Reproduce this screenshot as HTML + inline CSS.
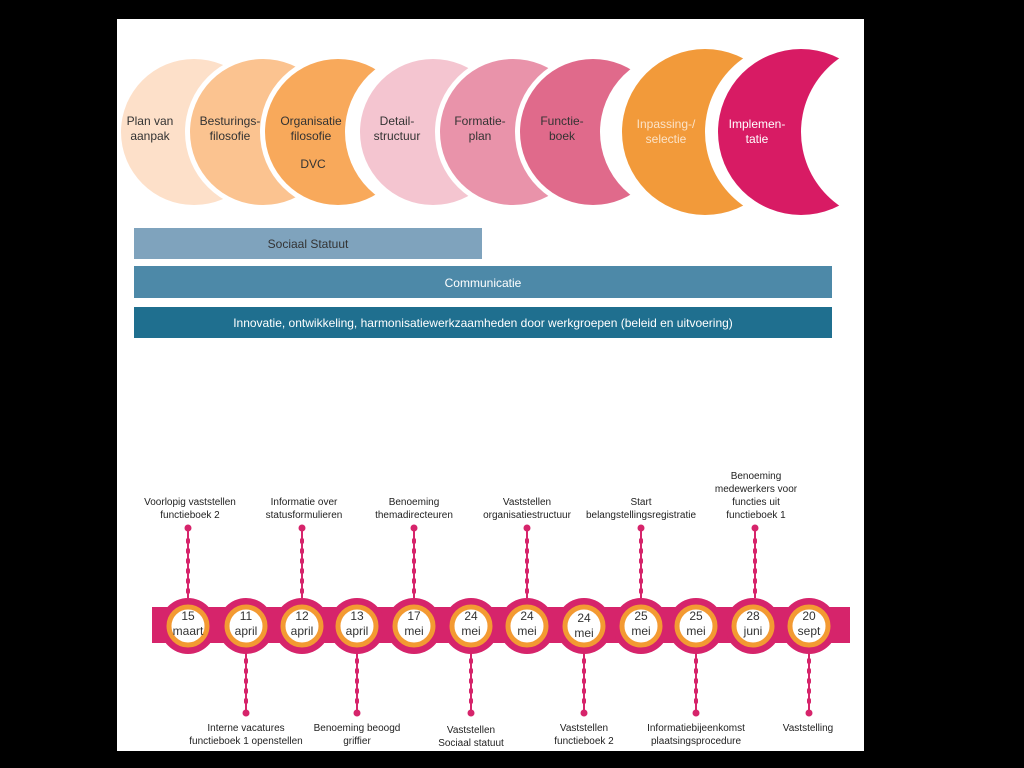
<!DOCTYPE html>
<html><head><meta charset="utf-8"><style>
html,body{margin:0;padding:0;background:#000;width:1024px;height:768px;overflow:hidden}
svg{display:block;font-family:"Comic Sans MS","Liberation Sans",sans-serif}
</style></head><body>
<svg width="1024" height="768" viewBox="0 0 1024 768">
<defs>
<mask id="m1"><rect x="0" y="0" width="1024" height="768" fill="#fff"/><circle cx="281" cy="132" r="80" fill="#000"/></mask>
<mask id="m2"><rect x="0" y="0" width="1024" height="768" fill="#fff"/><circle cx="350" cy="132" r="80" fill="#000"/></mask>
<mask id="m3"><rect x="0" y="0" width="1024" height="768" fill="#fff"/><circle cx="425" cy="132" r="80" fill="#000"/></mask>
<mask id="m4"><rect x="0" y="0" width="1024" height="768" fill="#fff"/><circle cx="520" cy="132" r="80" fill="#000"/></mask>
<mask id="m5"><rect x="0" y="0" width="1024" height="768" fill="#fff"/><circle cx="600" cy="132" r="80" fill="#000"/></mask>
<mask id="m6"><rect x="0" y="0" width="1024" height="768" fill="#fff"/><circle cx="680" cy="132" r="80" fill="#000"/></mask>
<mask id="m7"><rect x="0" y="0" width="1024" height="768" fill="#fff"/><circle cx="795" cy="132" r="90" fill="#000"/></mask>
<mask id="m8"><rect x="0" y="0" width="1024" height="768" fill="#fff"/><circle cx="891" cy="132" r="90" fill="#000"/></mask>
</defs>
<rect x="0" y="0" width="1024" height="768" fill="#000"/>
<rect x="117" y="19" width="747" height="732" fill="#fff"/>
<g mask="url(#m1)"><circle cx="194" cy="132" r="73" fill="#fde0c9"/></g>
<g mask="url(#m2)"><circle cx="263" cy="132" r="78" fill="#fff"/><circle cx="263" cy="132" r="73" fill="#fbc390"/></g>
<g mask="url(#m3)"><circle cx="338" cy="132" r="78" fill="#fff"/><circle cx="338" cy="132" r="73" fill="#f8a95b"/></g>
<g mask="url(#m4)"><circle cx="433" cy="132" r="78" fill="#fff"/><circle cx="433" cy="132" r="73" fill="#f4c5d0"/></g>
<g mask="url(#m5)"><circle cx="513" cy="132" r="78" fill="#fff"/><circle cx="513" cy="132" r="73" fill="#e993aa"/></g>
<g mask="url(#m6)"><circle cx="593" cy="132" r="78" fill="#fff"/><circle cx="593" cy="132" r="73" fill="#e06a8b"/></g>
<g mask="url(#m7)"><circle cx="705" cy="132" r="88" fill="#fff"/><circle cx="705" cy="132" r="83" fill="#f29a3a"/></g>
<g mask="url(#m8)"><circle cx="801" cy="132" r="88" fill="#fff"/><circle cx="801" cy="132" r="83" fill="#d81b64"/></g>
<g font-size="12" fill="#333" text-anchor="middle">
<text x="150" y="125">Plan van</text><text x="150" y="140">aanpak</text>
<text x="230" y="125">Besturings-</text><text x="230" y="140">filosofie</text>
<text x="311" y="125">Organisatie</text><text x="311" y="140">filosofie</text><text x="313" y="168">DVC</text>
<text x="397" y="125">Detail-</text><text x="397" y="140">structuur</text>
<text x="480" y="125">Formatie-</text><text x="480" y="140">plan</text>
<text x="562" y="125">Functie-</text><text x="562" y="140">boek</text>
<text x="666" y="128" fill="#fbe3c8">Inpassing-/</text><text x="666" y="143" fill="#fbe3c8">selectie</text>
<text x="757" y="128" fill="#fff">Implemen-</text><text x="757" y="143" fill="#fff">tatie</text>
</g>
<rect x="134" y="228" width="348" height="31" fill="#7fa3bd"/>
<rect x="134" y="266" width="698" height="32" fill="#4d89a8"/>
<rect x="134" y="307" width="698" height="31" fill="#1f6f8f"/>
<g font-size="12" text-anchor="middle">
<text x="308" y="248" fill="#333">Sociaal Statuut</text>
<text x="483" y="287" fill="#fff">Communicatie</text>
<text x="483" y="327" fill="#fff">Innovatie, ontwikkeling, harmonisatiewerkzaamheden door werkgroepen (beleid en uitvoering)</text>
</g>
<rect x="152" y="607" width="698" height="36" fill="#d6246b"/>
<g fill="#d6246b" stroke="#d6246b" stroke-width="2">
<line x1="188" y1="530" x2="188" y2="598"/><line x1="302" y1="530" x2="302" y2="598"/><line x1="414" y1="530" x2="414" y2="598"/><line x1="527" y1="530" x2="527" y2="598"/><line x1="641" y1="530" x2="641" y2="598"/><line x1="755" y1="530" x2="755" y2="598"/>
<line x1="246" y1="652" x2="246" y2="712"/><line x1="357" y1="652" x2="357" y2="712"/><line x1="471" y1="652" x2="471" y2="712"/><line x1="584" y1="652" x2="584" y2="712"/><line x1="696" y1="652" x2="696" y2="712"/><line x1="809" y1="652" x2="809" y2="712"/>
<g stroke="none">
<circle cx="188" cy="528" r="3.5"/><circle cx="302" cy="528" r="3.5"/><circle cx="414" cy="528" r="3.5"/><circle cx="527" cy="528" r="3.5"/><circle cx="641" cy="528" r="3.5"/><circle cx="755" cy="528" r="3.5"/>
<circle cx="246" cy="713" r="3.5"/><circle cx="357" cy="713" r="3.5"/><circle cx="471" cy="713" r="3.5"/><circle cx="584" cy="713" r="3.5"/><circle cx="696" cy="713" r="3.5"/><circle cx="809" cy="713" r="3.5"/>
</g>
</g>
<g stroke="#d6246b" stroke-width="4" stroke-dasharray="2 8" stroke-linecap="round">
<path d="M188 540V595M302 540V595M414 540V595M527 540V595M641 540V595M755 540V595M246 660V705M357 660V705M471 660V705M584 660V705M696 660V705M809 660V705"/>
</g>
<g fill="#d6246b">
<circle cx="188" cy="626" r="28"/><circle cx="246" cy="626" r="28"/><circle cx="302" cy="626" r="28"/><circle cx="357" cy="626" r="28"/><circle cx="414" cy="626" r="28"/><circle cx="471" cy="626" r="28"/><circle cx="527" cy="626" r="28"/><circle cx="584" cy="626" r="28"/><circle cx="641" cy="626" r="28"/><circle cx="696" cy="626" r="28"/><circle cx="753" cy="626" r="28"/><circle cx="809" cy="626" r="28"/>
</g>
<g fill="#fff" stroke="#f39a32" stroke-width="5">
<circle cx="188" cy="626" r="19"/><circle cx="246" cy="626" r="19"/><circle cx="302" cy="626" r="19"/><circle cx="357" cy="626" r="19"/><circle cx="414" cy="626" r="19"/><circle cx="471" cy="626" r="19"/><circle cx="527" cy="626" r="19"/><circle cx="584" cy="626" r="19"/><circle cx="641" cy="626" r="19"/><circle cx="696" cy="626" r="19"/><circle cx="753" cy="626" r="19"/><circle cx="809" cy="626" r="19"/>
</g>
<g font-size="12" text-anchor="middle" fill="#333">
<text x="188" y="620">15</text><text x="188" y="635">maart</text>
<text x="246" y="620">11</text><text x="246" y="635">april</text>
<text x="302" y="620">12</text><text x="302" y="635">april</text>
<text x="357" y="620">13</text><text x="357" y="635">april</text>
<text x="414" y="620">17</text><text x="414" y="635">mei</text>
<text x="471" y="620">24</text><text x="471" y="635">mei</text>
<text x="527" y="620">24</text><text x="527" y="635">mei</text>
<text x="584" y="622">24</text><text x="584" y="637">mei</text>
<text x="641" y="620">25</text><text x="641" y="635">mei</text>
<text x="696" y="620">25</text><text x="696" y="635">mei</text>
<text x="753" y="620">28</text><text x="753" y="635">juni</text>
<text x="809" y="620">20</text><text x="809" y="635">sept</text>
</g>
<g font-size="10" text-anchor="middle" fill="#222">
<text x="190" y="505">Voorlopig vaststellen</text><text x="190" y="518">functieboek 2</text>
<text x="304" y="505">Informatie over</text><text x="304" y="518">statusformulieren</text>
<text x="414" y="505">Benoeming</text><text x="414" y="518">themadirecteuren</text>
<text x="527" y="505">Vaststellen</text><text x="527" y="518">organisatiestructuur</text>
<text x="641" y="505">Start</text><text x="641" y="518">belangstellingsregistratie</text>
<text x="756" y="479">Benoeming</text><text x="756" y="492">medewerkers voor</text><text x="756" y="505">functies uit</text><text x="756" y="518">functieboek 1</text>
<text x="246" y="731">Interne vacatures</text><text x="246" y="744">functieboek 1 openstellen</text>
<text x="357" y="731">Benoeming beoogd</text><text x="357" y="744">griffier</text>
<text x="471" y="733">Vaststellen</text><text x="471" y="746">Sociaal statuut</text>
<text x="584" y="731">Vaststellen</text><text x="584" y="744">functieboek 2</text>
<text x="696" y="731">Informatiebijeenkomst</text><text x="696" y="744">plaatsingsprocedure</text>
<text x="808" y="731">Vaststelling</text>
</g>
</svg>
</body></html>
